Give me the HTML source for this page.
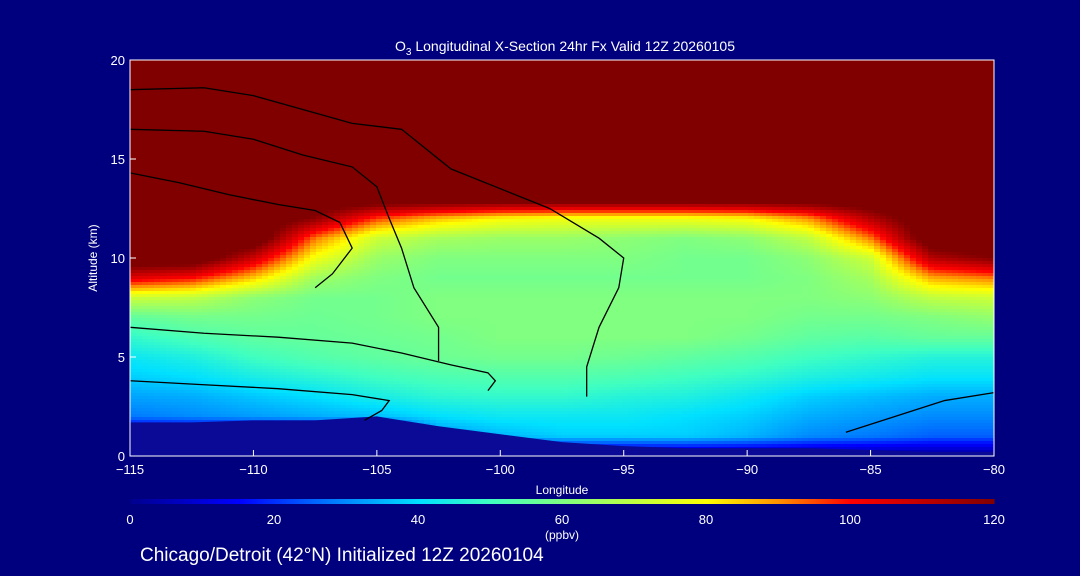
<!DOCTYPE html>
<html><head><meta charset="utf-8">
<style>
html,body{margin:0;padding:0;background:#00007f;}
svg{display:block;font-family:"Liberation Sans",sans-serif;}
</style></head>
<body>
<svg id="chart" width="1080" height="576" viewBox="0 0 1080 576">
<rect x="0" y="0" width="1080" height="576" fill="#00007f"/>
<g id="cells"></g>
<g id="terrainG"></g>
<g id="contours"></g>
<rect x="130" y="60" width="864" height="396" fill="none" stroke="#fff" stroke-width="1"/>
<text x="565" y="51" fill="#fff" font-size="14" text-anchor="middle" font-family="Liberation Sans Narrow, Liberation Sans, sans-serif">O<tspan font-size="10" dy="4">3</tspan><tspan dy="-4"> Longitudinal X-Section 24hr  Fx Valid 12Z 20260105</tspan></text>
<g id="xticks"></g>
<g id="yticks"></g>
<text x="562" y="494" fill="#fff" font-size="12" text-anchor="middle">Longitude</text>
<text x="97" y="258" fill="#fff" font-size="12" text-anchor="middle" transform="rotate(-90 97 258)">Altitude (km)</text>
<g id="cbar"></g>
<text x="562" y="539" fill="#fff" font-size="12" text-anchor="middle">(ppbv)</text>
<text x="140" y="561" fill="#fff" font-size="19">Chicago/Detroit (42°N) Initialized 12Z 20260104</text>
</svg>
<script>
const lons=[-115,-112.5,-110,-107.5,-105,-102.5,-100,-97.5,-95,-92.5,-90,-87.5,-85,-82.5,-80];
const alts=[0,1,2,3,4,5,6,7,8,9,10,11,12,13,14,15,16,17,18,19,20];
const ozone=[
[0,0,0,0,0,0,0,0,0,0,0,0,0,0,0],
[0,0,0,0,0,30,35,38,38,38,35,30,28,25,25],
[28,30,32,34,36,40,42,42,42,40,38,34,32,30,30],
[33,34,37,40,44,47,48,48,46,45,42,38,36,34,34],
[38,40,44,47,50,52,53,53,52,50,48,45,43,41,41],
[42,45,50,53,55,57,58,58,57,55,53,50,48,46,46],
[48,52,55,56,57,58,60,60,60,60,58,55,54,56,56],
[55,58,58,57,58,60,60,60,60,60,60,58,58,60,63],
[72,70,62,58,58,60,60,60,60,60,60,60,62,70,72],
[105,100,85,65,60,58,58,58,58,58,58,60,66,88,92],
[130,130,108,78,64,60,60,60,60,58,58,62,72,112,120],
[130,130,130,92,72,66,64,64,62,60,62,70,92,130,130],
[130,130,130,118,96,86,80,78,78,78,80,90,112,130,130],
[130,130,130,130,130,130,130,130,130,130,130,130,130,130,130],
[130,130,130,130,130,130,130,130,130,130,130,130,130,130,130],
[130,130,130,130,130,130,130,130,130,130,130,130,130,130,130],
[130,130,130,130,130,130,130,130,130,130,130,130,130,130,130],
[130,130,130,130,130,130,130,130,130,130,130,130,130,130,130],
[130,130,130,130,130,130,130,130,130,130,130,130,130,130,130],
[130,130,130,130,130,130,130,130,130,130,130,130,130,130,130],
[130,130,130,130,130,130,130,130,130,130,130,130,130,130,130]];
const terrain=[1.7,1.7,1.8,1.8,2.0,1.5,1.1,0.7,0.5,0.4,0.4,0.4,0.3,0.2,0.2];
const xTicks=[-115,-110,-105,-100,-95,-90,-85,-80];
const yTicks=[0,5,10,15,20];
const cbTicks=[0,20,40,60,80,100,120];
// contour lines (lon, alt pairs)
const contourA_lon=[-115,-112,-110,-108,-106,-104,-102,-100,-98,-96,-95,-95.2,-96,-96.5,-96.5];
const contourA_alt=[18.5,18.6,18.2,17.5,16.8,16.5,14.5,13.5,12.5,11,10,8.5,6.5,4.5,3];
const contourB_lon=[-115,-112,-110,-108,-106,-105,-104.5,-104,-103.5,-102.5,-102.5];
const contourB_alt=[16.5,16.4,16,15.2,14.6,13.6,12,10.5,8.5,6.5,4.8];
const contourC_lon=[-115,-113,-111,-109,-107.5,-106.5,-106,-106.8,-107.5];
const contourC_alt=[14.3,13.8,13.2,12.7,12.4,11.8,10.5,9.2,8.5];
const contourD_lon=[-115,-112,-109,-106,-104,-102,-100.5,-100.2,-100.5];
const contourD_alt=[6.5,6.2,6,5.7,5.2,4.6,4.2,3.8,3.3];
const contourE_lon=[-115,-112,-109,-106,-104.5,-104.8,-105.5];
const contourE_alt=[3.8,3.6,3.4,3.1,2.8,2.3,1.8];
const contourF_lon=[-86,-84,-82,-80];
const contourF_alt=[1.2,2.0,2.8,3.2];

const X0=130,X1=994,Y0=456,Y1=60;
const xs=l=>X0+(l+115)/35*(X1-X0);
const ys=a=>Y0-a/20*(Y0-Y1);
const stops=[[0,[0,0,143]],[15,[0,0,255]],[25,[0,96,255]],[40,[0,224,255]],[50,[64,255,192]],[60,[128,255,128]],[75,[224,255,32]],[80,[255,255,0]],[90,[255,144,0]],[100,[255,0,0]],[115,[160,0,0]],[120,[128,0,0]]];
function cmap(v){if(v<=0)return 'rgb(0,0,143)';if(v>=120)return 'rgb(128,0,0)';
for(let i=1;i<stops.length;i++){if(v<=stops[i][0]){const a=stops[i-1],b=stops[i],t=(v-a[0])/(b[0]-a[0]);
return 'rgb('+a[1].map((c,k)=>Math.round(c+(b[1][k]-c)*t)).join(',')+')';}}}
function interp(grid,v){let i=0;while(i<grid.length-2&&v>grid[i+1])i++;const t=Math.max(0,Math.min(1,(v-grid[i])/(grid[i+1]-grid[i])));return [i,t];}
function val(lon,alt){const [i,tx]=interp(lons,lon);const [j,ty]=interp(alts,alt);
const a=ozone[j][i],b=ozone[j][i+1],c=ozone[j+1][i],d=ozone[j+1][i+1];
return (a*(1-tx)+b*tx)*(1-ty)+(c*(1-tx)+d*tx)*ty;}
const NS='http://www.w3.org/2000/svg';
const cells=document.getElementById('cells');
const cw=6,ch=3;
for(let px=X0;px<X1;px+=cw){for(let py=Y1;py<Y0;py+=ch){
const lon=-115+(px+cw/2-X0)/(X1-X0)*35, alt=(Y0-(py+ch/2))/(Y0-Y1)*20;
const r=document.createElementNS(NS,'rect');
r.setAttribute('x',px);r.setAttribute('y',py);r.setAttribute('width',cw+0.5);r.setAttribute('height',ch+0.5);
r.setAttribute('fill',cmap(val(lon,alt)));


cells.appendChild(r);}}
let pts=lons.map((l,i)=>xs(l)+','+ys(terrain[i])).join(' ');
pts=X0+','+Y0+' '+pts+' '+X1+','+Y0;
const tp=document.createElementNS(NS,'polygon');
tp.setAttribute('points',pts);tp.setAttribute('fill','#0a0a96');


document.getElementById('terrainG').appendChild(tp);
const cg=document.getElementById('contours');
[[contourA_lon,contourA_alt],[contourB_lon,contourB_alt],[contourC_lon,contourC_alt],[contourD_lon,contourD_alt],[contourE_lon,contourE_alt],[contourF_lon,contourF_alt]].forEach(c=>{
const pl=document.createElementNS(NS,'polyline');
pl.setAttribute('points',c[0].map((l,i)=>xs(l)+','+ys(c[1][i])).join(' '));
pl.setAttribute('fill','none');pl.setAttribute('stroke','#000');pl.setAttribute('stroke-width','1.3');


cg.appendChild(pl);});
const xg=document.getElementById('xticks');
xTicks.forEach(t=>{const l=document.createElementNS(NS,'line');l.setAttribute('x1',xs(t));l.setAttribute('x2',xs(t));l.setAttribute('y1',Y0);l.setAttribute('y2',Y0-6);l.setAttribute('stroke','#fff');


xg.appendChild(l);
const tx=document.createElementNS(NS,'text');tx.setAttribute('x',xs(t));tx.setAttribute('y',Y0+18);tx.setAttribute('fill','#fff');tx.setAttribute('font-size','13');tx.setAttribute('text-anchor','middle');tx.textContent=(t<0?'\u2212'+(-t):t);


xg.appendChild(tx);});
const yg=document.getElementById('yticks');
yTicks.forEach(t=>{const l=document.createElementNS(NS,'line');l.setAttribute('x1',X0);l.setAttribute('x2',X0+6);l.setAttribute('y1',ys(t));l.setAttribute('y2',ys(t));l.setAttribute('stroke','#fff');


yg.appendChild(l);
const tx=document.createElementNS(NS,'text');tx.setAttribute('x',X0-5);tx.setAttribute('y',ys(t)+5);tx.setAttribute('fill','#fff');tx.setAttribute('font-size','13');tx.setAttribute('text-anchor','end');tx.textContent=t;


yg.appendChild(tx);});
const cb=document.getElementById('cbar');
for(let px=X0;px<X1;px+=2){const v=(px-X0)/(X1-X0)*120;const r=document.createElementNS(NS,'rect');
r.setAttribute('x',px);r.setAttribute('y',499);r.setAttribute('width',2.5);r.setAttribute('height',5);r.setAttribute('fill',cmap(v));


cb.appendChild(r);}
cbTicks.forEach(t=>{const tx=document.createElementNS(NS,'text');tx.setAttribute('x',X0+t/120*(X1-X0));tx.setAttribute('y',524);tx.setAttribute('fill','#fff');tx.setAttribute('font-size','13');tx.setAttribute('text-anchor','middle');tx.textContent=t;


cb.appendChild(tx);});
</script>
</body></html>
